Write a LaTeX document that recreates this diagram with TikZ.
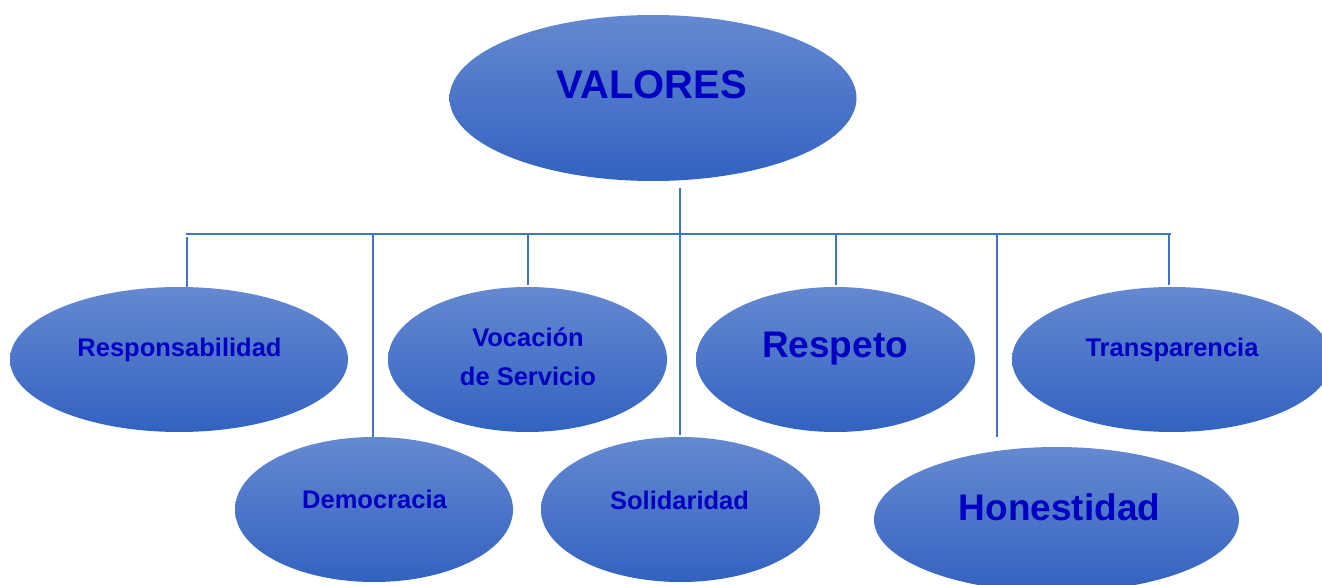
\documentclass[tikz,border=0pt]{standalone}
\usepackage{fontspec}
\setmainfont{Liberation Sans}
\usetikzlibrary{shapes.geometric}
\definecolor{ltop}{HTML}{6589D1}
\definecolor{lbot}{HTML}{3262C0}
\definecolor{linec}{HTML}{4472C4}
\definecolor{txtc}{HTML}{0000C0}
\tikzset{
  bubble/.style={ellipse, inner sep=0pt, top color=ltop, bottom color=lbot, draw=none},
  lbl/.style={text=txtc, font=\bfseries\fontsize{25.5}{39}\selectfont, align=center, inner sep=0pt},
  biglbl/.style={text=txtc, font=\bfseries\fontsize{37}{40}\selectfont, inner sep=0pt},
  toplbl/.style={text=txtc, font=\bfseries\fontsize{40}{44}\selectfont, inner sep=0pt},
  conn/.style={draw=linec, line width=2pt}
}
\begin{document}
\begin{tikzpicture}[x=1pt,y=-1pt]
\useasboundingbox (0,0) rectangle (1322,585);
% bubbles
\node[bubble, minimum width=407pt, minimum height=166pt] (root) at (653,98) {};
\node[bubble, minimum width=338pt, minimum height=145pt] (resp) at (179,359.5) {};
\node[bubble, minimum width=279pt, minimum height=145pt] (voca) at (527.5,359.5) {};
\node[bubble, minimum width=279pt, minimum height=145pt] (rspt) at (835.5,359.5) {};
\node[bubble, minimum width=320pt, minimum height=145pt] (tran) at (1172,359.5) {};
\node[bubble, minimum width=278pt, minimum height=145pt] (demo) at (374,509.5) {};
\node[bubble, minimum width=279pt, minimum height=145pt] (soli) at (680.5,509.5) {};
\node[bubble, minimum width=365pt, minimum height=145pt] (hone) at (1056.5,519.5) {};
% labels
\node[toplbl] (troot) at (652,85) {VALORES};
\node[lbl] (tresp) at (179.5,350) {Responsabilidad};
\node[lbl] (tvoca) at (528,357) {Vocación\\de Servicio};
\node[biglbl] (trspt) at (835,349) {Respeto};
\node[lbl] (ttran) at (1172,350) {Transparencia};
\node[lbl] (tdemo) at (374.5,499) {Democracia};
\node[lbl] (tsoli) at (679.5,500) {Solidaridad};
\node[biglbl] (thone) at (1059.5,507) {Honestidad};
% connector points
\coordinate (r0) at (680,188);
\coordinate (bl) at (186,234);
\coordinate (br) at (1171,234);
\coordinate (b1) at (187,237);
\coordinate (e1) at (187,287);
\coordinate (b2) at (373,234);
\coordinate (e2) at (373,437);
\coordinate (b3) at (528,234);
\coordinate (e3) at (528,285);
\coordinate (e4) at (680,435);
\coordinate (b5) at (836,234);
\coordinate (e5) at (836,285);
\coordinate (b6) at (997,234);
\coordinate (e6) at (997,437);
\coordinate (b7) at (1169,234);
\coordinate (e7) at (1169,285);
\draw[conn] (bl) -- (br);
\draw[conn] (r0) -- (e4);
\draw[conn] (b1) -- (e1);
\draw[conn] (b2) -- (e2);
\draw[conn] (b3) -- (e3);
\draw[conn] (b5) -- (e5);
\draw[conn] (b6) -- (e6);
\draw[conn] (b7) -- (e7);
\end{tikzpicture}
\end{document}
